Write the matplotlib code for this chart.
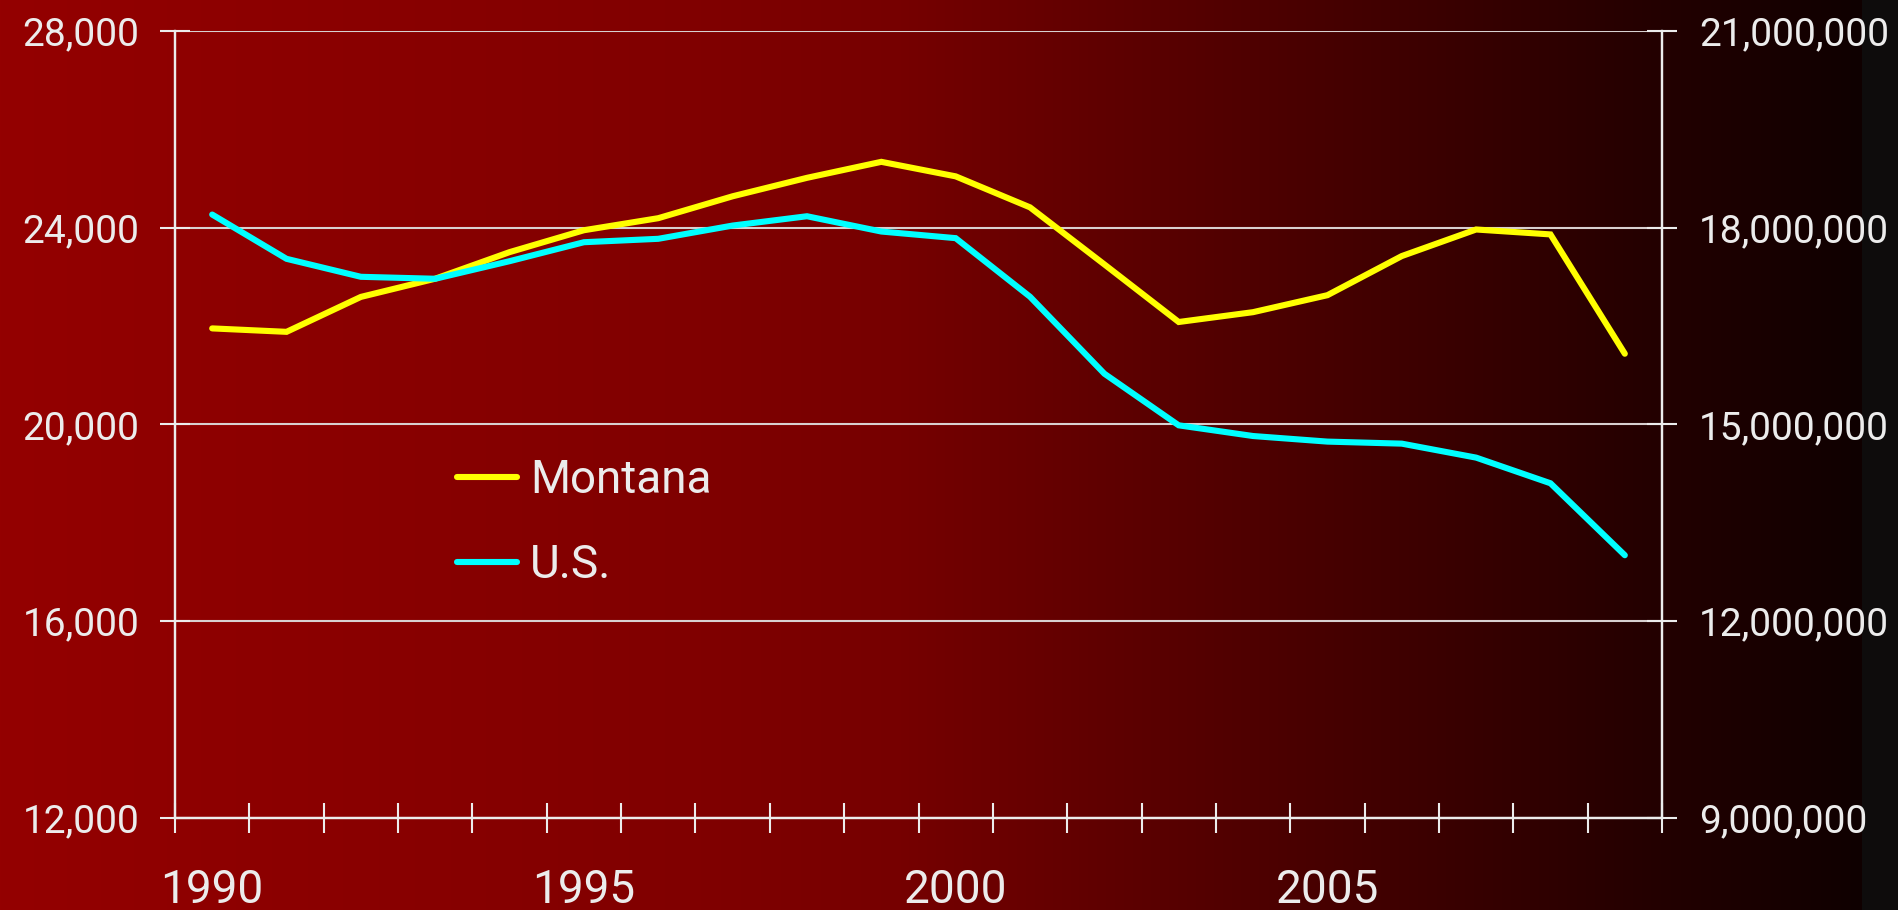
import numpy as np
import matplotlib
matplotlib.use('Agg')
import matplotlib.pyplot as plt
from matplotlib.ticker import FixedLocator, FuncFormatter

# ---- data ----
years = list(range(1990, 2010))
montana = [21950, 21880, 22590, 22960, 23500, 23945, 24190, 24635, 25010, 25335,
           25040, 24410, 23250, 22080, 22280, 22625, 23420, 23960, 23860, 21435]
us = [18198000, 17523000, 17249000, 17219000, 17487000, 17776000, 17828000,
      18030000, 18172000, 17939000, 17838000, 16945000, 15772000, 14985000,
      14822000, 14737000, 14706000, 14493000, 14102000, 13005000]
series_names = ['Montana', 'U.S.']
year_label_values = [1990, 1995, 2000, 2005]
left_ticks = [12000, 16000, 20000, 24000, 28000]
right_ticks = [9000000, 12000000, 15000000, 18000000, 21000000]

TXT = '#ececec'
GRID = '#d8d0d0'
W, H = 1899, 910

fig = plt.figure(figsize=(W / 100, H / 100), dpi=100)

# background gradient
bg = fig.add_axes([0, 0, 1, 1], zorder=-10)
xs = np.arange(W)
red = np.interp(xs, [0, 200, 700, 900, 1240, 1660, 1860],
                [148, 142, 128, 118, 80, 35, 15])
img = np.zeros((1, W, 3))
img[0, :, 0] = red / 255.0
strip = xs >= 1862
img[0, strip, :] = np.array([14, 12, 12]) / 255.0
bg.imshow(img, aspect='auto', extent=[0, 1, 0, 1], interpolation='nearest')
bg.set_axis_off()

left, right = 175 / W, 1662 / W
bottom, top = 1 - 818 / H, 1 - 30.7 / H
ax = fig.add_axes([left, bottom, right - left, top - bottom])
ax.set_facecolor('none')
ax2 = ax.twinx()
ax2.set_facecolor('none')

x = np.arange(len(years))
l1, = ax.plot(x, montana, color='#ffff00', lw=4.4, solid_capstyle='round',
              solid_joinstyle='miter', zorder=5)
l2, = ax2.plot(x, us, color='#00ffff', lw=4.4, solid_capstyle='round',
               solid_joinstyle='miter', zorder=5)

ax.set_xlim(-0.5, len(years) - 0.5)
ax.set_ylim(left_ticks[0], left_ticks[-1])
ax2.set_ylim(right_ticks[0], right_ticks[-1])

# x ticks: boundaries between categories as major ticks (no labels)
ax.xaxis.set_major_locator(FixedLocator(np.arange(-0.5, len(years), 1.0)))
ax.xaxis.set_major_formatter(FuncFormatter(lambda v, p: ''))
lab_pos = [years.index(y) for y in year_label_values]
ax.xaxis.set_minor_locator(FixedLocator(lab_pos))
ax.xaxis.set_minor_formatter(FuncFormatter(lambda v, p: str(years[int(round(v))])))
ax.tick_params(axis='x', which='major', direction='inout', length=21.5,
               width=1.5, color=TXT)
ax.tick_params(axis='x', which='minor', length=0, pad=36, labelcolor=TXT,
               labelsize=33)
for t in ax.xaxis.get_minorticklabels():
    t.set_family(['Roboto', 'DejaVu Sans'])

ax.yaxis.set_major_locator(FixedLocator(left_ticks))
ax.yaxis.set_major_formatter(FuncFormatter(lambda v, p: f'{int(v):,}'))
ax2.yaxis.set_major_locator(FixedLocator(right_ticks))
ax2.yaxis.set_major_formatter(FuncFormatter(lambda v, p: f'{int(v):,}'))
ax.tick_params(axis='y', direction='inout', length=21, width=1.5, color=TXT,
               labelcolor=TXT, labelsize=28, pad=15)
ax2.tick_params(axis='y', direction='inout', length=21, width=1.5, color=TXT,
                labelcolor=TXT, labelsize=28, pad=16)
for a in (ax, ax2):
    for t in a.get_yticklabels():
        t.set_family(['Roboto', 'DejaVu Sans'])

ax.grid(axis='y', color=GRID, lw=1.5)
ax.set_axisbelow(True)

for a in (ax, ax2):
    a.spines['top'].set_visible(False)
    for s in ('left', 'right', 'bottom'):
        a.spines[s].set_color(TXT)
        a.spines[s].set_linewidth(1.6)

leg = ax2.legend([l1, l2], series_names, loc='upper left',
                 bbox_to_anchor=(457 / W, 1 - 458 / H),
                 bbox_transform=fig.transFigure, frameon=False,
                 borderpad=0, borderaxespad=0, handlelength=1.3,
                 handletextpad=0.3, labelspacing=0.9,
                 prop={'family': ['Roboto', 'DejaVu Sans'], 'size': 33})
for t in leg.get_texts():
    t.set_color(TXT)

fig.savefig('out.png', dpi=100)
